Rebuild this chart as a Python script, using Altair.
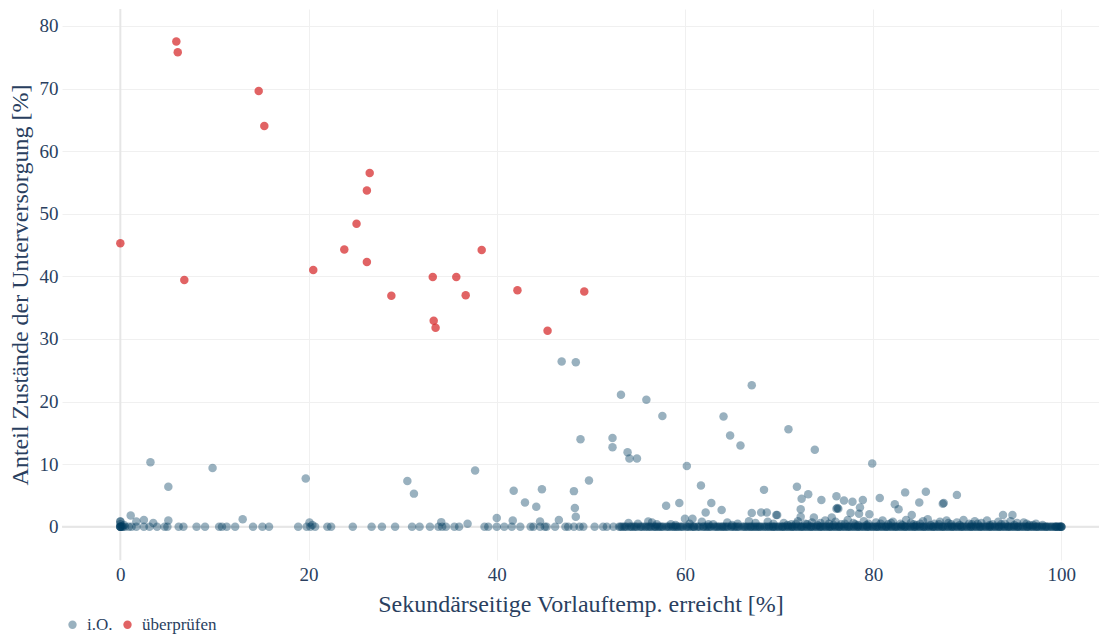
import altair as alt
import pandas as pd

# ---------------- data ----------------
# "i.O." points lying on the zero line (x values, y = 0)
io_zero_x = [0, 0, 0, 0, 0.2, 0.5, 0.9, 1.2, 1.7, 2.5, 3.1, 3.9, 4.7, 5.0, 6.2, 6.7,
             8.1, 9.0, 10.5, 10.8, 11.3, 12.2, 14.1, 15.1, 15.8, 18.9, 19.8, 20.2,
             20.7, 22.0, 22.4, 24.7, 26.7, 27.8, 29.2, 31.0, 31.8, 32.9, 33.8, 34.2,
             34.6, 35.5, 36.0, 38.7, 39.1, 40.0, 40.8, 41.6, 42.5, 43.6, 43.9, 44.6,
             45.1, 45.3, 46.2, 47.3, 47.6, 48.2, 48.8, 49.2, 50.4, 51.3, 51.7, 52.4,
             53.0, 53.3, 53.5, 53.8, 54.1, 54.4, 54.6, 54.9, 55.2, 55.5, 55.9, 56.1,
             56.4, 56.8, 57.1, 57.4, 57.7, 58.0, 58.3, 58.7, 59.0, 59.3, 59.5, 59.8,
             60.1, 60.4, 60.8, 61.0, 61.3, 61.6, 61.9, 62.2, 62.5, 62.8, 63.1, 63.4,
             63.7, 64.0, 64.3, 64.6, 64.9, 65.2, 65.5, 65.8, 66.1, 66.4, 66.7, 67.0,
             67.3, 67.6, 67.9, 68.2, 68.4, 68.7, 68.9, 69.2, 69.4, 69.7, 69.9, 70.2,
             70.4, 70.7, 70.9, 71.2, 71.4, 71.7, 71.9, 72.2, 72.4, 72.7, 72.9, 73.2,
             73.4, 73.7, 73.9, 74.2, 74.4, 74.7, 74.9, 75.2, 75.4, 75.7, 75.9, 76.2,
             76.4, 76.7, 76.9, 77.2, 77.4, 77.7, 77.9, 78.2, 78.4, 78.7, 78.9, 79.2,
             79.4, 79.7, 79.9, 80.2, 80.4, 80.7, 80.9, 81.2, 81.4, 81.7, 81.9, 82.2,
             82.4, 82.7, 82.9, 83.2, 83.4, 83.7, 83.9, 84.2, 84.4, 84.7, 84.9, 85.2,
             85.4, 85.7, 85.9, 86.2, 86.4, 86.7, 86.9, 87.2, 87.4, 87.7, 87.9, 88.2,
             88.4, 88.7, 88.9, 89.2, 89.4, 89.7, 89.9, 90.2, 90.4, 90.7, 90.9, 91.2,
             91.4, 91.7, 91.9, 92.2, 92.4, 92.7, 92.9, 93.2, 93.4, 93.7, 93.9, 94.2,
             94.4, 94.7, 94.9, 95.2, 95.4, 95.7, 95.9, 96.2, 96.4, 96.7, 96.9, 97.2,
             97.4, 97.7, 97.9, 98.2, 98.4, 98.7, 98.9, 99.2, 99.4, 99.7, 100, 100, 100,
             56.9, 58.5, 60.6, 62.0, 63.9, 65.0, 66.9, 68.0, 69.0, 70.0, 71.0, 72.0,
             73.0, 74.0, 75.0, 76.0, 77.0, 78.0, 79.0, 80.0, 81.0, 82.0, 83.0, 84.0,
             85.0, 86.0, 87.0, 88.0, 89.0, 90.0, 91.0, 92.0, 93.0, 94.0, 95.0, 96.0,
             97.0, 98.0, 99.0, 99.5, 99.8,
             53.15, 53.65, 54.25, 54.75, 55.35, 55.75, 56.25, 56.65, 57.25, 57.55,
             58.15, 58.85, 59.15, 59.65, 60.25, 60.95, 61.45, 62.35, 62.65, 63.25,
             63.55, 64.15, 64.45, 65.35, 65.65, 66.25, 66.55, 67.15, 67.45, 67.75,
             68.55, 69.35, 69.55, 70.35, 70.55, 71.35, 71.55, 72.35, 72.55, 73.35,
             73.55, 74.35, 74.55, 75.35, 75.55, 76.35, 76.55, 77.35, 77.55, 78.35,
             78.55, 79.35, 79.55, 80.35, 80.55, 81.35, 81.55, 82.35, 82.55, 83.35,
             83.55, 84.35, 84.55, 85.35, 85.55, 86.35, 86.55, 87.35, 87.55, 88.35,
             88.55, 89.35, 89.55, 90.35, 90.55, 91.35, 91.55, 92.35, 92.55, 93.35,
             93.55, 94.35, 94.55, 95.35, 95.55, 96.35, 96.55, 97.35, 97.55, 98.35,
             98.55, 99.35, 99.55, 99.9, 0.1, 0.3]

# "i.O." points above the zero line
io_x = [3.2, 5.1, 9.8, 19.7, 30.5, 31.2, 1.1, 2.5, 5.1, 13.0, 34.1, 20.1, 3.5, 0, 1.7,
        46.9, 48.4, 67.1, 53.2, 55.9, 57.6, 64.1, 64.8, 65.9, 48.9, 52.3, 52.3, 53.9,
        54.1, 54.9, 60.2, 37.7, 61.7, 49.8, 41.8, 44.8, 48.2, 43.0, 44.2, 48.3, 48.4,
        58.0, 59.4, 62.8, 62.2, 63.9, 68.4, 67.1, 68.1, 68.7, 40.0, 41.7, 44.6, 46.6,
        60.0, 60.8, 56.1, 69.8, 54.0,
        71.0, 73.8, 79.9, 71.9, 73.1, 72.4, 74.5, 76.1, 76.9, 77.8, 78.9, 78.6, 80.7,
        83.4, 85.6, 88.9, 82.3, 84.9, 87.4, 87.5, 82.7, 76.1, 76.3, 76.2, 72.3, 79.6,
        77.6, 78.5, 69.7, 72.3, 73.7, 84.1, 93.8, 94.8, 75.6,
        70.5, 71.3, 72.0, 72.8, 73.5, 74.1, 74.9, 75.3, 76.0, 76.6, 77.3, 77.9, 78.4,
        79.0, 79.5, 80.3, 81.0, 81.6, 82.1, 82.9, 83.5, 84.0, 84.6, 85.3, 85.8, 86.5,
        87.1, 87.8, 88.3, 88.9, 89.6, 90.2, 90.8, 91.5, 92.1, 92.7, 93.3, 94.0, 94.6,
        95.3, 96.0, 96.6, 97.3, 98.0, 60.5, 61.8, 63.0, 64.5, 65.6, 66.8, 67.5, 68.8,
        69.4, 55.0, 56.5, 58.5, 0, 0, 0.4, 20.4, 36.9,
        70.9, 71.8, 73.0, 74.4, 75.8, 77.0, 78.1, 79.3, 80.8, 81.9, 83.1, 84.3, 85.0,
        86.1, 87.0, 88.0, 89.2, 90.5, 91.1, 92.4, 93.6, 95.0, 96.3, 97.0, 62.5, 65.0,
        57.0, 59.0]
io_y = [10.3, 6.4, 9.4, 7.7, 7.3, 5.3, 1.8, 1.1, 1.0, 1.2, 0.75, 0.7, 0.6, 0.85, 0.85,
        26.4, 26.3, 22.6, 21.1, 20.3, 17.7, 17.6, 14.6, 13.0, 14.0, 14.2, 12.7, 11.9,
        10.9, 10.9, 9.7, 9.0, 6.6, 7.4, 5.75, 6.0, 5.7, 3.9, 3.2, 3.0, 1.6,
        3.35, 3.8, 3.8, 2.3, 2.7, 5.9, 2.2, 2.3, 2.3, 1.4, 1.0, 0.85, 1.1,
        1.3, 1.3, 0.85, 1.9, 0.6,
        15.6, 12.3, 10.1, 6.4, 5.2, 4.5, 4.3, 4.9, 4.2, 4.0, 4.3, 3.1, 4.6,
        5.5, 5.6, 5.1, 3.6, 3.9, 3.7, 3.8, 2.8, 2.9, 2.9, 3.0, 2.8, 2.0,
        2.2, 2.1, 1.9, 1.6, 1.5, 1.9, 1.9, 1.9, 1.5,
        0.6, 0.4, 0.9, 0.5, 0.7, 0.3, 1.0, 0.5, 0.8, 0.4, 1.1, 0.6, 0.3,
        0.9, 0.5, 0.7, 1.0, 0.4, 0.8, 0.5, 1.1, 0.6, 0.3, 0.9, 1.2, 0.5,
        0.8, 1.0, 0.4, 0.7, 1.1, 0.5, 0.9, 0.6, 1.0, 0.4, 0.8, 0.5, 0.9,
        0.6, 0.7, 0.3, 0.5, 0.3, 0.5, 0.8, 0.4, 0.7, 0.5, 0.9, 0.6, 0.8,
        0.5, 0.5, 0.7, 0.4, 0.4, 0.85, 0.3, 0.3, 0.5,
        0.3, 0.5, 0.4, 0.6, 0.3, 0.5, 0.4, 0.3, 0.5, 0.6, 0.3, 0.4, 0.5,
        0.3, 0.4, 0.6, 0.3, 0.4, 0.5, 0.3, 0.4, 0.3, 0.5, 0.3, 0.4, 0.3,
        0.4, 0.3]

# "überprüfen" points
check_x = [0, 5.95, 6.1, 6.8, 14.7, 15.3, 20.5, 23.8, 25.1, 26.2, 26.5, 26.2, 28.8,
           33.2, 33.3, 33.5, 35.7, 36.7, 38.4, 42.2, 45.4, 49.3]
check_y = [45.3, 77.5, 75.8, 39.4, 69.6, 64.0, 41.0, 44.3, 48.4, 53.7, 56.5, 42.3, 36.9,
           39.9, 32.9, 31.8, 39.9, 37.0, 44.2, 37.8, 31.3, 37.6]

categories = ["i.O.", "überprüfen"]

rows = [{"x": v, "y": 0.0, "Status": categories[0]} for v in io_zero_x]
rows += [{"x": a, "y": b, "Status": categories[0]} for a, b in zip(io_x, io_y)]
rows += [{"x": a, "y": b, "Status": categories[1]} for a, b in zip(check_x, check_y)]
df = pd.DataFrame(rows)

FONT = "Liberation Serif"
TXT = "#2a3f5f"

xscale = alt.Scale(domain=[-6.2, 104.0], nice=False, zero=False)
yscale = alt.Scale(domain=[-5.3, 82.7], nice=False, zero=False)

points = alt.Chart(df).mark_circle(size=72).encode(
    x=alt.X("x:Q", scale=xscale,
            title="Sekundärseitige Vorlauftemp. erreicht [%]",
            axis=alt.Axis(values=[0, 20, 40, 60, 80, 100], labelPadding=5,
                          titlePadding=8, labelFont=FONT, labelFontSize=19,
                          labelColor=TXT)),
    y=alt.Y("y:Q", scale=yscale,
            title="Anteil Zustände der Unterversorgung [%]",
            axis=alt.Axis(values=[0, 10, 20, 30, 40, 50, 60, 70, 80],
                          labelPadding=4, titlePadding=7, labelFont=FONT,
                          labelFontSize=19, labelColor=TXT)),
    color=alt.Color("Status:N",
                    scale=alt.Scale(domain=categories, range=["#003d5e", "#d62728"]),
                    legend=alt.Legend(title=None, orient="none", direction="horizontal",
                                      legendX=2, legendY=607, symbolSize=70,
                                      labelFont=FONT, labelFontSize=17,
                                      labelColor=TXT, columnPadding=6,
                                      symbolType="circle", labelOffset=6)),
    opacity=alt.Opacity("Status:N",
                        scale=alt.Scale(domain=categories, range=[0.4, 0.72])),
)

zx = alt.Chart(pd.DataFrame({"v": [0]})).mark_rule(color="#e6e6e6", strokeWidth=2).encode(
    x=alt.X("v:Q", scale=xscale))
zy = alt.Chart(pd.DataFrame({"v": [0]})).mark_rule(color="#e6e6e6", strokeWidth=2).encode(
    y=alt.Y("v:Q", scale=yscale))

chart = alt.layer(zx, zy, points).properties(
    width=1037, height=551,
    autosize=alt.AutoSizeParams(type="none"),
    padding={"left": 54, "top": 1, "right": 0, "bottom": 75},
    background="white",
).configure_view(stroke=None).configure_axis(
    domain=False, ticks=False, grid=True, gridColor="#f0f0f0", gridWidth=1,
    labelFont=FONT, labelFontSize=19, labelColor=TXT,
    titleFont=FONT, titleFontSize=24, titleColor=TXT, titleFontWeight="normal",
)

chart.save("out.html", embed_options={"renderer": "svg", "actions": False})
